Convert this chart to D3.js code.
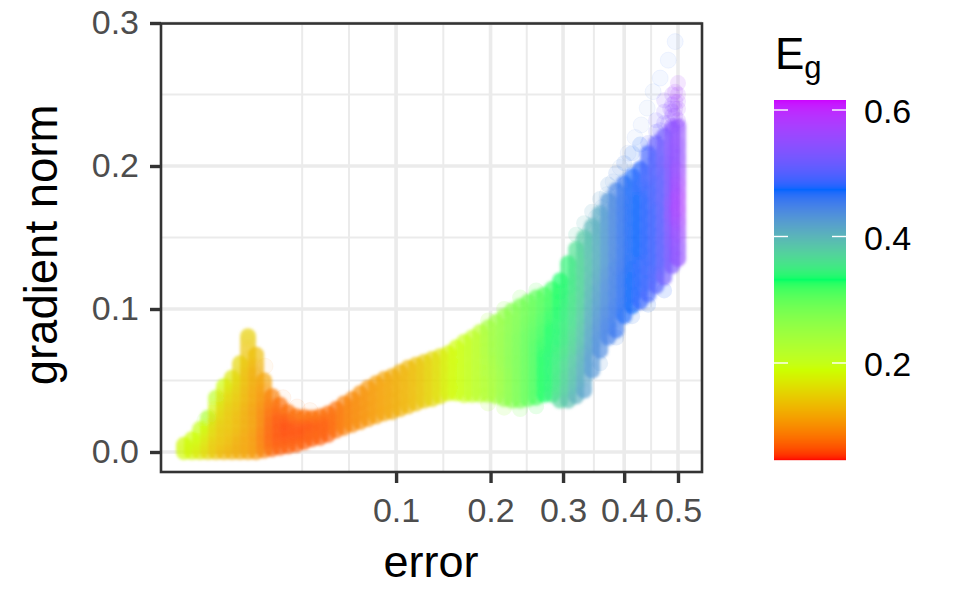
<!DOCTYPE html>
<html><head><meta charset="utf-8">
<script src="https://cdn.jsdelivr.net/npm/d3@7"></script>
<style>html,body{margin:0;background:#fff}svg{display:block}text{font-family:"Liberation Sans",Arial,sans-serif}</style>
</head><body><svg id="c" width="960" height="600"></svg>
<script>
const xTicks=[0.1,0.2,0.3,0.4,0.5];
const xMinor=[0.0346,0.063,0.1457,0.2474,0.3487,0.4487];
const yTicks=[0,0.1,0.2,0.3];
const yMinor=[0.05,0.15,0.25];
const legendTicks=[0.2,0.4,0.6];
const rainbowStops=["#FF0000","#CCFF00","#00FF66","#0066FF","#CC00FF"];
const errorColumns=[0.00049,0.00111,0.00197,0.00308,0.00443,0.00603,0.00788,0.00997,0.01231,0.0149,0.01773,0.02081,0.02413,0.0277,0.03152,0.03558,0.03989,0.04445,0.04925,0.0543,0.05959,0.06513,0.07092,0.07695,0.08323,0.08976,0.09653,0.10355,0.1108,0.11832,0.12607,0.13407,0.14232,0.15081,0.15955,0.16854,0.17778,0.18726,0.19698,0.20696,0.21718,0.22764,0.23835,0.24931,0.26052,0.27197,0.28367,0.29561,0.3078,0.32023,0.33291,0.34584,0.359,0.37242,0.38608,0.39998,0.41413,0.42853,0.44317,0.45806,0.4732,0.48858,0.5];
const gradColumns=[
[0,0.003,0.005],[0,0.004,0.009],[0,0.006,0.012,0.016],
[0,0.006,0.012,0.018,0.024],[0,0.006,0.012,0.018,0.024,0.03,0.038],
[0,0.006,0.012,0.018,0.024,0.03,0.036,0.042,0.046],
[0,0.006,0.012,0.018,0.024,0.03,0.036,0.042,0.048,0.052],
[0,0.006,0.012,0.018,0.024,0.03,0.036,0.042,0.048,0.054,0.062],
[0,0.006,0.012,0.018,0.024,0.03,0.036,0.042,0.048,0.054,0.06,0.066,0.072,0.078,0.081],
[0,0.006,0.012,0.018,0.024,0.03,0.036,0.042,0.048,0.054,0.06,0.068],
[0.001,0.007,0.013,0.019,0.025,0.031,0.037,0.043,0.05],
[0.002,0.008,0.014,0.02,0.026,0.032,0.039],
[0.003,0.009,0.015,0.021,0.027,0.033],
[0.004,0.01,0.016,0.022,0.028],
[0.005,0.011,0.017,0.025],
[0.007,0.012,0.018,0.0245],
[0.009,0.014,0.019,0.024],
[0.01,0.015,0.02,0.025],
[0.012,0.017,0.022,0.027],
[0.015,0.02,0.025,0.03],
[0.017,0.022,0.028,0.034],
[0.019,0.025,0.031,0.037],
[0.021,0.027,0.034,0.041],
[0.023,0.03,0.037,0.045],
[0.025,0.032,0.04,0.048],
[0.027,0.034,0.042,0.051],
[0.028,0.036,0.044,0.053],
[0.03,0.038,0.047,0.056],
[0.032,0.04,0.05,0.059],
[0.034,0.043,0.052,0.061],
[0.036,0.045,0.054,0.063],
[0.037,0.046,0.055,0.065],
[0.039,0.048,0.058,0.067],
[0.041,0.05,0.06,0.069],
[0.041,0.05,0.06,0.067,0.073],
[0.04,0.05,0.06,0.07,0.077],
[0.04,0.05,0.06,0.07,0.08],
[0.04,0.047,0.055,0.063,0.071,0.078,0.084],
[0.04,0.047,0.055,0.063,0.071,0.079,0.087],
[0.039,0.047,0.055,0.063,0.071,0.079,0.091],
[0.037,0.045,0.053,0.062,0.07,0.079,0.087,0.095],
[0.036,0.045,0.053,0.062,0.07,0.08,0.09,0.099],
[0.036,0.045,0.053,0.062,0.071,0.08,0.09,0.102],
[0.037,0.045,0.054,0.063,0.072,0.081,0.09,0.098,0.105],
[0.038,0.046,0.055,0.064,0.073,0.082,0.091,0.1,0.108],
[0.04,0.048,0.057,0.066,0.075,0.084,0.093,0.103,0.11],
[0.04,0.048,0.057,0.066,0.075,0.085,0.095,0.105,0.114],
[0.036,0.044,0.052,0.061,0.07,0.079,0.088,0.097,0.105,0.112,0.12],
[0.036,0.044,0.053,0.062,0.071,0.08,0.089,0.098,0.107,0.115,0.122,0.132],
[0.039,0.047,0.056,0.065,0.074,0.083,0.092,0.101,0.11,0.118,0.125,0.134,0.142],
[0.043,0.051,0.06,0.069,0.078,0.087,0.096,0.105,0.114,0.124,0.132,0.142,0.15],
[0.057,0.065,0.074,0.083,0.092,0.101,0.11,0.119,0.128,0.138,0.148,0.158],
[0.071,0.079,0.088,0.097,0.106,0.115,0.124,0.133,0.142,0.15,0.158,0.167],
[0.08,0.088,0.097,0.106,0.115,0.124,0.133,0.142,0.151,0.16,0.168,0.176],
[0.085,0.093,0.102,0.111,0.12,0.129,0.138,0.147,0.156,0.165,0.173,0.183],
[0.095,0.103,0.112,0.121,0.13,0.139,0.148,0.157,0.166,0.175,0.188],
[0.102,0.11,0.119,0.128,0.137,0.146,0.155,0.164,0.173,0.183,0.193],
[0.105,0.113,0.122,0.131,0.14,0.149,0.158,0.167,0.176,0.186,0.198],
[0.11,0.118,0.127,0.136,0.145,0.154,0.163,0.172,0.181,0.19,0.2,0.209],
[0.116,0.124,0.133,0.142,0.151,0.16,0.169,0.178,0.187,0.196,0.206,0.216],
[0.122,0.13,0.139,0.148,0.157,0.166,0.175,0.184,0.193,0.202,0.221],
[0.13,0.138,0.147,0.156,0.165,0.174,0.183,0.192,0.201,0.21,0.226],
[0.135,0.143,0.152,0.161,0.17,0.179,0.188,0.197,0.206,0.215,0.228]
];
const egColumns=[
0.185,[0.18,0.185,0.19],[0.17,0.18,0.19,0.2],
[0.155,0.16,0.17,0.185,0.23],[0.14,0.14,0.15,0.15,0.16,0.18,0.21],
[0.13,0.14,0.14,0.145,0.15,0.15,0.16,0.17,0.19],
[0.125,0.13,0.135,0.14,0.14,0.145,0.15,0.155,0.16,0.17],
[0.12,0.12,0.125,0.13,0.13,0.135,0.14,0.145,0.15,0.15,0.155],
[0.115,0.115,0.115,0.12,0.12,0.12,0.125,0.125,0.13,0.13,0.135,0.14,0.14,0.145,0.15],
[0.105,0.105,0.105,0.11,0.11,0.11,0.115,0.115,0.12,0.12,0.125,0.135],
[0.09,0.085,0.085,0.09,0.09,0.095,0.1,0.105,0.115],
[0.075,0.07,0.07,0.07,0.075,0.08,0.09],
[0.07,0.065,0.065,0.065,0.07,0.08],
[0.07,0.065,0.06,0.065,0.08],
[0.07,0.065,0.065,0.08],[0.07,0.065,0.065,0.08],[0.07,0.07,0.065,0.08],[0.07,0.07,0.07,0.08],[0.07,0.07,0.07,0.08],
0.08,0.09,0.095,0.1,0.105,0.11,0.115,0.12,0.125,0.13,0.137,0.145,0.155,0.165,0.18,0.187,0.195,0.205,0.215,
[0.225,0.225,0.23,0.23,0.235,0.235,0.24],
[0.24,0.24,0.24,0.245,0.25,0.25,0.25],
[0.26,0.255,0.255,0.26,0.26,0.26,0.26,0.26],
[0.27,0.27,0.27,0.275,0.275,0.275,0.27,0.27],
[0.285,0.285,0.285,0.285,0.285,0.285,0.28,0.28],
[0.3,0.3,0.3,0.3,0.3,0.3,0.295,0.29,0.29],
[0.315,0.315,0.315,0.315,0.315,0.31,0.305,0.3,0.3],
[0.33,0.33,0.33,0.33,0.325,0.32,0.315,0.31,0.31],
[0.345,0.34,0.34,0.34,0.335,0.33,0.325,0.32,0.32],
[0.37,0.36,0.355,0.35,0.345,0.34,0.34,0.335,0.33,0.33,0.33],
[0.39,0.38,0.375,0.37,0.36,0.355,0.35,0.35,0.345,0.34,0.34,0.34],
[0.405,0.395,0.39,0.385,0.375,0.37,0.365,0.36,0.36,0.36,0.36,0.36,0.36],
[0.42,0.415,0.41,0.405,0.395,0.39,0.385,0.38,0.375,0.375,0.375,0.38,0.38],
[0.43,0.43,0.425,0.42,0.415,0.41,0.405,0.4,0.395,0.395,0.395,0.4],
[0.44,0.44,0.435,0.43,0.425,0.42,0.415,0.41,0.41,0.41,0.41,0.41],
[0.45,0.45,0.445,0.44,0.44,0.435,0.43,0.43,0.43,0.43,0.43,0.43],
[0.46,0.455,0.455,0.45,0.45,0.45,0.445,0.445,0.445,0.445,0.445,0.445],
[0.47,0.465,0.465,0.465,0.46,0.46,0.46,0.46,0.46,0.46,0.46],
[0.475,0.475,0.475,0.475,0.47,0.47,0.47,0.47,0.47,0.47,0.47],
[0.485,0.48,0.48,0.48,0.475,0.475,0.475,0.475,0.475,0.48,0.48],
[0.49,0.485,0.485,0.485,0.485,0.485,0.485,0.485,0.485,0.49,0.49,0.49],
[0.5,0.495,0.49,0.49,0.49,0.49,0.49,0.495,0.495,0.5,0.5,0.51],
[0.52,0.51,0.51,0.51,0.51,0.51,0.51,0.51,0.51,0.52,0.52],
[0.53,0.53,0.535,0.54,0.55,0.55,0.54,0.54,0.54,0.54,0.54],
[0.55,0.55,0.56,0.57,0.58,0.58,0.57,0.56,0.55,0.55,0.55]
];
const trailError=[0.4945,0.481,0.4657,0.4525,0.4414,0.4304,0.4195,0.4071,0.393,0.381,0.3707,0.3623,0.3524,0.3426,0.3313,0.0254,0.032,0.0388,0.0181,0.0026];
const trailGrad=[0.287,0.274,0.2615,0.252,0.2405,0.2287,0.22,0.209,0.199,0.189,0.18,0.171,0.164,0.155,0.147,0.038,0.0315,0.029,0.06,0.022];
const trailEg=[0.47,0.47,0.47,0.46,0.46,0.46,0.45,0.45,0.44,0.44,0.43,0.43,0.42,0.41,0.4,0.08,0.08,0.08,0.1,0.27];
const fringeError=[0.359,0.38608,0.41413,0.44317,0.4732,0.32023,0.33291,0.34584,0.359,0.37242,0.38608,0.39998,0.41413,0.42853,0.19698,0.21718,0.23835,0.26052,0.19698,0.21718,0.23835,0.26052];
const fringeGrad=[0.062,0.08,0.095,0.103,0.113,0.152,0.16,0.168,0.177,0.187,0.195,0.202,0.209,0.215,0.092,0.1,0.108,0.113,0.034,0.031,0.03,0.032];
const fringeEg=[0.43,0.44,0.45,0.46,0.48,0.38,0.4,0.41,0.42,0.43,0.44,0.45,0.46,0.47,0.24,0.26,0.28,0.3,0.23,0.25,0.28,0.31];
const crownError=[0.44317,0.45806,0.45806,0.4657,0.4732,0.4732,0.4732,0.48858,0.48858,0.48858,0.5,0.5,0.481,0.4945,0.4945,0.4848,0.5,0.48858,0.5,0.4945,0.5,0.4945,0.48858];
const crownGrad=[0.216,0.224,0.232,0.225,0.23,0.238,0.246,0.235,0.243,0.25,0.24,0.258,0.23,0.245,0.252,0.24,0.25,0.228,0.232,0.235,0.245,0.24,0.238];
const crownEg=[0.5,0.51,0.52,0.52,0.53,0.53,0.54,0.55,0.55,0.56,0.57,0.58,0.54,0.56,0.58,0.55,0.58,0.55,0.56,0.56,0.57,0.56,0.55];

const colorStopValues=[0.0465,0.189,0.3315,0.474,0.6165];
const color=d3.scaleLinear().domain(colorStopValues).range(rainbowStops).interpolate(d3.interpolateLab);
const x=d3.scaleSqrt().domain([0,0.5]).range([168,678]);
const y=d3.scaleLinear().domain([0,0.3]).range([452,23]);
const legendY=d3.scaleLinear().domain([0.2,0.6]).range([363,110]);
const P={l:161,r:702,t:23.5,b:472};
const svg=d3.select("#c");
const grid=svg.append("g");
const gridLine=(vals,w,fn)=>vals.forEach(v=>{const a=fn(v);grid.append("line").attr("x1",a[0]).attr("y1",a[1]).attr("x2",a[2]).attr("y2",a[3]).attr("stroke","#ebebeb").attr("stroke-width",w);});
gridLine(yMinor,2,v=>[P.l,y(v),P.r,y(v)]);
gridLine(xMinor,2,v=>[x(v),P.t,x(v),P.b]);
gridLine(yTicks,3.6,v=>[P.l,y(v),P.r,y(v)]);
gridLine(xTicks,3.6,v=>[x(v),P.t,x(v),P.b]);

const egAt=(i,j)=>{const c=egColumns[i];return Array.isArray(c)?c[j]:c;};
const pts=[];
errorColumns.forEach((e,i)=>gradColumns[i].forEach((g,j)=>pts.push({e,g,eg:egAt(i,j)})));
const zip=(a,b,c)=>a.map((e,i)=>({e,g:b[i],eg:c[i]}));
const R=8;
const defs=svg.append("defs");
defs.append("filter").attr("id","soft").attr("x","-5%").attr("y","-5%").attr("width","110%").attr("height","110%")
  .append("feGaussianBlur").attr("stdDeviation",1.7);

// faint outlying points
const og=svg.append("g");
og.selectAll("circle.t").data(zip(trailError,trailGrad,trailEg)).join("circle").attr("class","t")
  .attr("cx",d=>x(d.e)).attr("cy",d=>y(d.g)).attr("r",R).attr("fill",d=>color(d.eg)).attr("fill-opacity",0.05)
  .attr("stroke",d=>color(d.eg)).attr("stroke-opacity",0.06);
og.selectAll("circle.f").data(zip(fringeError,fringeGrad,fringeEg)).join("circle").attr("class","f")
  .attr("cx",d=>x(d.e)).attr("cy",d=>y(d.g)).attr("r",R).attr("fill",d=>color(d.eg)).attr("fill-opacity",0.14);
og.selectAll("circle.c").data(zip(crownError,crownGrad,crownEg)).join("circle").attr("class","c")
  .attr("cx",d=>x(d.e)).attr("cy",d=>y(d.g)).attr("r",R).attr("fill",d=>color(d.eg)).attr("fill-opacity",0.13);

// dense body: each column of points merges into one soft capsule
const pg=svg.append("g").attr("filter","url(#soft)");
errorColumns.forEach((e,i)=>{
  const gs=gradColumns[i],g0=gs[0],gN=gs[gs.length-1];
  const lg=defs.append("linearGradient").attr("id","col"+i).attr("gradientUnits","userSpaceOnUse")
    .attr("x1",0).attr("x2",0).attr("y1",y(g0)).attr("y2",y(gN));
  gs.forEach((g,j)=>lg.append("stop").attr("offset",(g-g0)/(gN-g0)).attr("stop-color",color(egAt(i,j))));
  pg.append("line").attr("x1",x(e)).attr("x2",x(e)+0.01).attr("y1",y(g0)).attr("y2",y(gN))
    .attr("stroke",`url(#col${i})`).attr("stroke-width",2*R).attr("stroke-linecap","round").attr("stroke-opacity",0.62);
});
pg.selectAll("circle.p").data(pts).join("circle").attr("class","p")
  .attr("cx",d=>x(d.e)).attr("cy",d=>y(d.g)).attr("r",R).attr("fill",d=>color(d.eg)).attr("fill-opacity",0.12);

svg.append("rect").attr("x",P.l).attr("y",P.t).attr("width",P.r-P.l).attr("height",P.b-P.t)
  .attr("fill","none").attr("stroke","#333").attr("stroke-width",2.6);

const ax=svg.append("g").attr("transform",`translate(0,${P.b})`)
  .call(d3.axisBottom(x).tickValues(xTicks).tickSize(11).tickPadding(15).tickFormat(d3.format(".1f")));
const ay=svg.append("g").attr("transform",`translate(${P.l},0)`)
  .call(d3.axisLeft(y).tickValues(yTicks).tickSize(11).tickPadding(11).tickFormat(d3.format(".1f")));
[ax,ay].forEach(a=>{a.select(".domain").remove();a.selectAll(".tick line").attr("stroke","#333").attr("stroke-width",3.4);
  a.selectAll("text").attr("fill","#4d4d4d").style("font-size","34px").style("font-family",'"Liberation Sans"');});

svg.append("text").attr("x",431).attr("y",577).attr("text-anchor","middle").style("font-size","45px").attr("fill","#000").text("error");
svg.append("text").attr("transform","translate(57,245) rotate(-90)").attr("text-anchor","middle").style("font-size","45.5px").attr("fill","#000").text("gradient norm");

const legendVals=d3.range(0,360).map(i=>legendY.invert(100+i+0.5));
svg.append("g").selectAll("rect").data(legendVals).join("rect")
  .attr("x",774).attr("width",72).attr("y",d=>legendY(d)-0.5).attr("height",1.2).attr("fill",d=>color(d));
legendTicks.forEach(v=>{[[774,788],[832,846]].forEach(s=>svg.append("line").attr("x1",s[0]).attr("x2",s[1]).attr("y1",legendY(v)).attr("y2",legendY(v)).attr("stroke","#fff").attr("stroke-width",1.4));
  svg.append("text").attr("x",864).attr("y",legendY(v)+13).style("font-size","34px").attr("fill","#000").text(d3.format(".1f")(v));});
const t=svg.append("text").attr("x",775).attr("y",69).attr("fill","#000").style("font-size","44px");
t.append("tspan").text("E");
t.append("tspan").attr("dy",9).style("font-size","31px").text("g");
</script></body></html>
